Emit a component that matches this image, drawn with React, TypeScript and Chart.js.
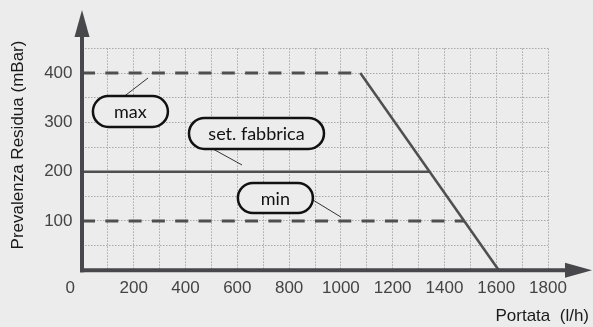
import React, { useEffect, useRef } from 'react';
import { Chart, registerables } from 'chart.js';

Chart.register(...registerables);

// ---- data (flow l/h, pressure mBar) ----
const maxLineFlow = [0, 1075];
const maxLinePressure = [400, 400];
const curveFlow = [1075, 1610];
const curvePressure = [400, 0];
const factoryFlow = [0, 1345];
const factoryPressure = [200, 200];
const minLineFlow = [0, 1476];
const minLinePressure = [100, 100];

const xMin = 0;
const xMax = 1800;
const yMin = 0;
const yMax = 450;
const xLabelStep = 200;
const yLabelValues = [100, 200, 300, 400];

const xTitle = 'Portata  (l/h)';
const yTitle = 'Prevalenza Residua (mBar)';

const labelTexts = ['max', 'set. fabbrica', 'min'];

// annotation layout (data coordinates for anchors, pixel sizes)
const annotations = [
  { text: labelTexts[0], cx: 187, cy: 322, w: 75, h: 31, from: [166, 354], to: [255, 390] },
  { text: labelTexts[1], cx: 674, cy: 277.5, w: 135, h: 31, from: [506, 246], to: [618, 213.6] },
  { text: labelTexts[2], cx: 747, cy: 146.7, w: 75, h: 30, from: [892, 142.6], to: [1000, 108] },
];

const BG = '#ececec';
const AXIS = '#47474c';
const LINE = '#4f4f4f';
const GRID = '#a9a9a9';
const TICK = '#444444';

const pts = (xs: number[], ys: number[]) => xs.map((x, i) => ({ x, y: ys[i] }));

const decorPlugin = {
  id: 'decor',
  beforeDraw(chart: any) {
    const ctx = chart.ctx;
    ctx.save();
    ctx.fillStyle = BG;
    ctx.fillRect(0, 0, chart.width, chart.height);
    ctx.restore();
  },
  afterDatasetsDraw(chart: any) {
    const ctx = chart.ctx;
    const xs = chart.scales.x;
    const ys = chart.scales.y;
    const x0 = xs.getPixelForValue(0);
    const y0 = ys.getPixelForValue(0);
    ctx.save();
    ctx.strokeStyle = AXIS;
    ctx.fillStyle = AXIS;
    ctx.lineWidth = 4;
    ctx.setLineDash([]);
    // y axis
    ctx.beginPath();
    ctx.moveTo(x0, y0 + 2);
    ctx.lineTo(x0, 36);
    ctx.stroke();
    ctx.beginPath();
    ctx.moveTo(x0 - 7.5, 37);
    ctx.lineTo(x0 + 7.5, 37);
    ctx.lineTo(x0, 10);
    ctx.closePath();
    ctx.fill();
    // x axis
    ctx.beginPath();
    ctx.moveTo(x0 - 2, y0);
    ctx.lineTo(566, y0);
    ctx.stroke();
    ctx.beginPath();
    ctx.moveTo(565, y0 - 7.5);
    ctx.lineTo(565, y0 + 7.5);
    ctx.lineTo(592, y0);
    ctx.closePath();
    ctx.fill();
    ctx.restore();
  },
  afterDraw(chart: any) {
    const ctx = chart.ctx;
    const xs = chart.scales.x;
    const ys = chart.scales.y;
    ctx.save();
    // titles
    ctx.fillStyle = '#1a1a1a';
    ctx.font = '17px "Liberation Sans", Arial, sans-serif';
    ctx.textAlign = 'right';
    ctx.textBaseline = 'middle';
    ctx.fillText(xTitle, 589, 316);
    ctx.save();
    ctx.translate(18, 145);
    ctx.rotate(-Math.PI / 2);
    ctx.textAlign = 'center';
    ctx.fillText(yTitle, 0, 0);
    ctx.restore();

    // annotations
    annotations.forEach((a) => {
      const fx = xs.getPixelForValue(a.from[0]);
      const fy = ys.getPixelForValue(a.from[1]);
      const tx = xs.getPixelForValue(a.to[0]);
      const ty = ys.getPixelForValue(a.to[1]);
      ctx.strokeStyle = '#333';
      ctx.lineWidth = 1;
      ctx.beginPath();
      ctx.moveTo(fx, fy);
      ctx.lineTo(tx, ty);
      ctx.stroke();

      const cx = xs.getPixelForValue(a.cx);
      const cy = ys.getPixelForValue(a.cy);
      const r = a.h / 2;
      const l = cx - a.w / 2;
      const rt = cx + a.w / 2;
      ctx.beginPath();
      ctx.moveTo(l + r, cy - r);
      ctx.lineTo(rt - r, cy - r);
      ctx.arc(rt - r, cy, r, -Math.PI / 2, Math.PI / 2);
      ctx.lineTo(l + r, cy + r);
      ctx.arc(l + r, cy, r, Math.PI / 2, (3 * Math.PI) / 2);
      ctx.closePath();
      ctx.fillStyle = BG;
      ctx.fill();
      ctx.strokeStyle = '#111';
      ctx.lineWidth = 2.5;
      ctx.stroke();
      ctx.fillStyle = '#111';
      ctx.font = '18px Lato, "Open Sans", sans-serif';
      ctx.textAlign = 'center';
      ctx.textBaseline = 'middle';
      ctx.fillText(a.text, cx, cy + 1);
    });
    ctx.restore();
  },
};

export default function App() {
  const ref = useRef<HTMLCanvasElement | null>(null);
  useEffect(() => {
    if (!ref.current) return;
    const tickFont = { family: '"Liberation Sans", Arial, sans-serif', size: 17 };
    const chart = new Chart(ref.current, {
      type: 'line',
      data: {
        datasets: [
          { label: 'max', data: pts(maxLineFlow, maxLinePressure), borderColor: LINE, borderWidth: 3, borderDash: [13, 10.3], pointRadius: 0, fill: false },
          { label: 'curve', data: pts(curveFlow, curvePressure), borderColor: LINE, borderWidth: 2.5, pointRadius: 0, fill: false },
          { label: 'set. fabbrica', data: pts(factoryFlow, factoryPressure), borderColor: LINE, borderWidth: 2.5, pointRadius: 0, fill: false },
          { label: 'min', data: pts(minLineFlow, minLinePressure), borderColor: LINE, borderWidth: 3, borderDash: [13, 10.3], pointRadius: 0, fill: false },
        ],
      },
      options: {
        responsive: false,
        animation: false,
        layout: { padding: { top: 48.4, right: 45, bottom: 0, left: 0 } },
        plugins: { legend: { display: false }, tooltip: { enabled: false } },
        scales: {
          x: {
            type: 'linear',
            min: xMin,
            max: xMax,
            afterFit: (s: any) => { s.height = 56.7; },
            grid: { color: GRID, lineWidth: 1, drawTicks: false },
            border: { display: false, dash: [1.5, 1.5] },
            ticks: {
              stepSize: 100,
              autoSkip: false,
              maxRotation: 0,
              minRotation: 0,
              padding: 8,
              color: TICK,
              font: tickFont,
              callback: (v: any) => (v === 0 ? '0     ' : v % xLabelStep === 0 ? String(v) : ''),
            },
          },
          y: {
            type: 'linear',
            min: yMin,
            max: yMax,
            afterFit: (s: any) => { s.width = 82; },
            grid: { color: GRID, lineWidth: 1, drawTicks: false },
            border: { display: false, dash: [1.5, 1.5] },
            ticks: {
              stepSize: 50,
              autoSkip: false,
              padding: 9.5,
              color: TICK,
              font: tickFont,
              callback: (v: any) => (yLabelValues.includes(v) ? String(v) : ''),
            },
          },
        },
      },
      plugins: [decorPlugin],
    } as any);
    return () => chart.destroy();
  }, []);
  return (
    <div style={{ position: 'absolute', left: 0, top: 0, width: 593, height: 327, background: BG }}>
      <canvas ref={ref} width={593} height={327} style={{ display: 'block' }} />
    </div>
  );
}
